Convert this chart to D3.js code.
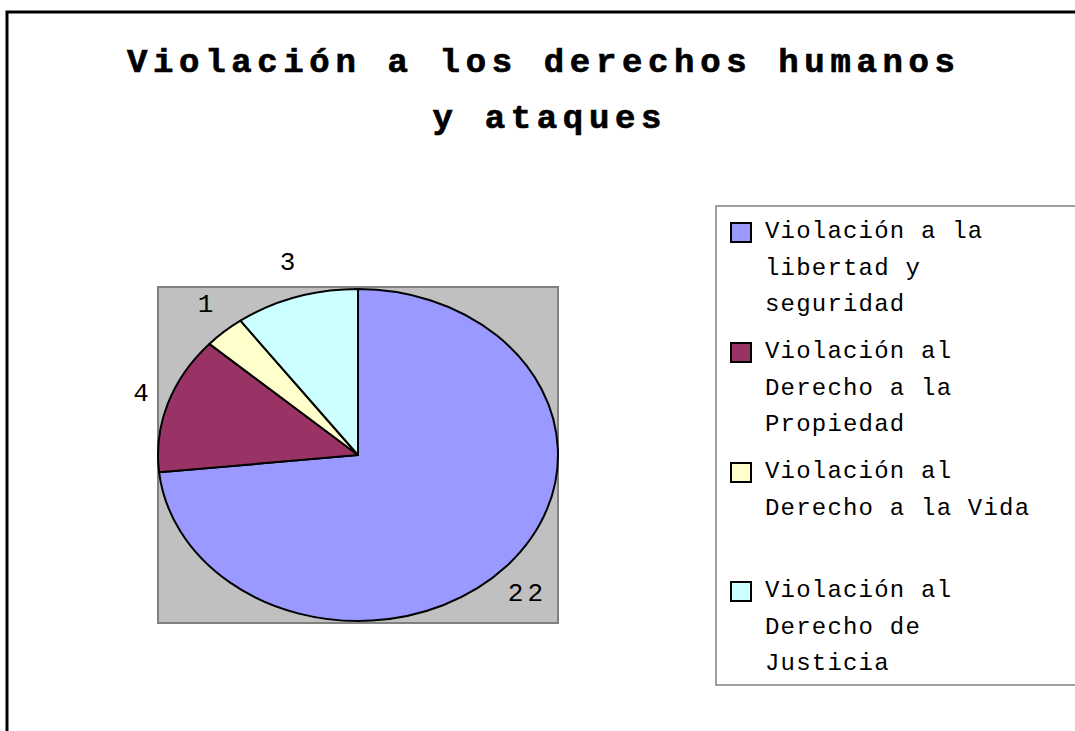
<!DOCTYPE html>
<html><head><meta charset="utf-8">
<script src="https://cdn.jsdelivr.net/npm/d3@7"></script>
<style>html,body{margin:0;padding:0;background:#fff;overflow:hidden}</style>
</head><body>
<svg id="chart" width="1075" height="731"></svg>
<script>
const titleLines = ["Violación a los derechos humanos", "y ataques"];
const categories = [
  "Violación a la libertad y seguridad",
  "Violación al Derecho a la Propiedad",
  "Violación al Derecho a la Vida",
  "Violación al Derecho de Justicia"
];
const legendLines = [
  ["Violación a la", "libertad y", "seguridad"],
  ["Violación al", "Derecho a la", "Propiedad"],
  ["Violación al", "Derecho a la Vida"],
  ["Violación al", "Derecho de", "Justicia"]
];
const values = [22, 4, 1, 3];
const colors = ["#9999FF", "#993366", "#FFFFCC", "#CCFFFF"];

const svg = d3.select("#chart");
const FONT = "'Liberation Mono', 'DejaVu Sans Mono', monospace";

// outer frame
svg.append("rect").attr("x", 7).attr("y", 12).attr("width", 1200).attr("height", 1000)
  .attr("fill", "none").attr("stroke", "#000").attr("stroke-width", 3);

// title
const titleSpec = [{cx: 541, y: 72, len: 828}, {cx: 547, y: 128, len: 229}];
titleLines.forEach((t, i) => {
  svg.append("text").attr("x", titleSpec[i].cx).attr("y", titleSpec[i].y)
    .attr("text-anchor", "middle").attr("font-family", FONT).attr("font-weight", "bold")
    .attr("font-size", 34).attr("textLength", titleSpec[i].len).attr("lengthAdjust", "spacing")
    .attr("stroke", "#000").attr("stroke-width", 0.7)
    .text(t);
});

// plot area
const plot = {x: 158, y: 287, w: 400, h: 336};
svg.append("rect").attr("x", plot.x).attr("y", plot.y).attr("width", plot.w).attr("height", plot.h)
  .attr("fill", "#C0C0C0").attr("stroke", "#808080").attr("stroke-width", 2);

const cx = 358, cy = 455, rx = 200, ry = 166;
const pie = d3.pie().sort(null).value(d => d);
const arcs = pie(values);
const arc = d3.arc().innerRadius(0).outerRadius(rx);
const g = svg.append("g").attr("transform", `translate(${cx},${cy}) scale(1,${ry / rx})`);
g.selectAll("path").data(arcs).join("path")
  .attr("d", arc).attr("fill", (d, i) => colors[i])
  .attr("stroke", "#000").attr("stroke-width", 2).attr("vector-effect", "non-scaling-stroke")
  .attr("stroke-linejoin", "round");

// data labels
const lrx = rx + 28, lry = ry + 38;
arcs.forEach((d, i) => {
  const a = (d.startAngle + d.endAngle) / 2;
  const x = cx + lrx * Math.sin(a);
  const y = cy - lry * Math.cos(a);
  svg.append("text").attr("x", x).attr("y", y + 9)
    .attr("text-anchor", "middle").attr("font-family", FONT).attr("font-size", 26)
    .attr("letter-spacing", values[i] >= 10 ? 4 : 0)
    .text(values[i]);
});

// legend
svg.append("rect").attr("x", 716).attr("y", 206).attr("width", 500).attr("height", 479)
  .attr("fill", "#fff").attr("stroke", "#808080").attr("stroke-width", 1.5);
const itemY = [238, 358, 478, 597];
const lineH = 36.5;
legendLines.forEach((lines, i) => {
  svg.append("rect").attr("x", 731).attr("y", itemY[i] - 15).attr("width", 20).attr("height", 19)
    .attr("fill", colors[i]).attr("stroke", "#000").attr("stroke-width", 2);
  lines.forEach((ln, j) => {
    svg.append("text").attr("x", 765).attr("y", itemY[i] + j * lineH)
      .attr("font-family", FONT).attr("font-size", 24).attr("letter-spacing", 1.2)
      .text(ln);
  });
});
</script>
</body></html>
